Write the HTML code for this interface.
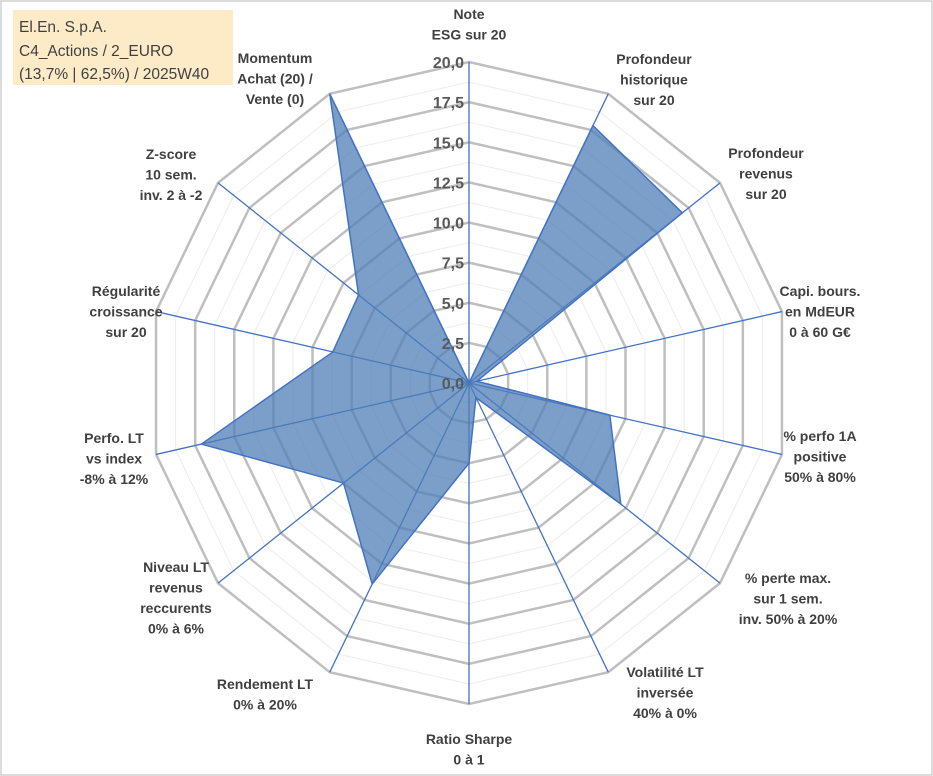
<!DOCTYPE html>
<html><head><meta charset="utf-8"><style>
body{margin:0;background:#fff}
svg{display:block;font-family:"Liberation Sans",Arial,sans-serif}
.lbl{font-weight:bold;font-size:14px;fill:#404040}
.tick{font-weight:bold;font-size:16px;fill:#595959}
</style></head><body>
<svg id="chart" width="933" height="776">
<rect x="1" y="1" width="931" height="774" fill="#fff" stroke="#d0d0d0" stroke-width="1.5"/>
<rect x="13" y="10" width="220" height="75" fill="#fdebc8"/>
<text x="19" y="32" font-size="15.5" fill="#404040">El.En. S.p.A.</text>
<text x="19" y="56" font-size="15.5" fill="#404040">C4_Actions / 2_EURO</text>
<text x="19" y="79" font-size="15.5" fill="#404040">(13,7% | 62,5%) / 2025W40</text>
<g id="grid"></g><g id="series"></g><g id="ticks"></g><g id="labels"></g>
</svg>
<script>
const categories=[["Note","ESG sur 20"],["Profondeur","historique","sur 20"],["Profondeur","revenus","sur 20"],["Capi. bours.","en MdEUR","0 à 60 G€"],["% perfo 1A","positive","50% à 80%"],["% perte max.","sur 1 sem.","inv. 50% à 20%"],["Volatilité LT","inversée","40% à 0%"],["Ratio Sharpe","0 à 1"],["Rendement LT","0% à 20%"],["Niveau LT","revenus","reccurents","0% à 6%"],["Perfo. LT","vs index","-8% à 12%"],["Régularité","croissance","sur 20"],["Z-score","10 sem.","inv. 2 à -2"],["Momentum","Achat (20) /","Vente (0)"]];
const values=[0,17.8,17.0,0.5,9.0,12.1,1.0,5.0,13.9,10.0,17.1,8.7,8.8,20];
const tickLabels=["0,0","2,5","5,0","7,5","10,0","12,5","15,0","17,5","20,0"];
const labelPos=[[469,19],[654,64],[766,158],[820,296],[820,441],[788,583],[665,677],[469,744],[265,689],[176,572],[114,443],[126,296],[171,159],[275,63]];
const NS="http://www.w3.org/2000/svg";
const cx=469,cy=383,R=321,maxV=20,N=categories.length;
function ang(i){return i*2*Math.PI/N;}
function pt(i,v){const r=v/maxV*R;return [cx+r*Math.sin(ang(i)),cy-r*Math.cos(ang(i))];}
function mk(t,a,p){const e=document.createElementNS(NS,t);for(const k in a)e.setAttribute(k,a[k]);p.appendChild(e);return e;}
const grid=document.getElementById('grid');
for(let k=1;k<=16;k++){const v=k*1.25;const pts=[];for(let i=0;i<N;i++)pts.push(pt(i,v).join(','));
const major=k%2===0;
const e=mk('polygon',{points:pts.join(' '),fill:'none',stroke:major?'#bfbfbf':'#ececec','stroke-width':major?2.5:1},grid);

}
for(let i=0;i<N;i++){const p=pt(i,maxV);const e=mk('line',{x1:cx,y1:cy,x2:p[0],y2:p[1],stroke:'#4472c4','stroke-width':1.3},grid);

}
const ser=document.getElementById('series');
const sp=values.map((v,i)=>pt(i,v).join(',')).join(' ');
const poly=mk('polygon',{points:sp,fill:'#4f7fb5','fill-opacity':0.75,stroke:'#4472c4','stroke-width':1.5},ser);


const tg=document.getElementById('ticks');
tickLabels.forEach((t,k)=>{const y=cy-(k*2.5)/maxV*R;const e=mk('text',{x:cx-5,y:y+6,'text-anchor':'end',class:'tick'},tg);e.textContent=t;

});
const lg=document.getElementById('labels');
categories.forEach((lines,i)=>{const [x,y]=labelPos[i];const e=mk('text',{x:x,y:y,'text-anchor':'middle',class:'lbl'},lg);


lines.forEach((l,j)=>{const s=mk('tspan',{x:x,dy:j?20.5:0},e);s.textContent=l;});});
</script>
</body></html>
